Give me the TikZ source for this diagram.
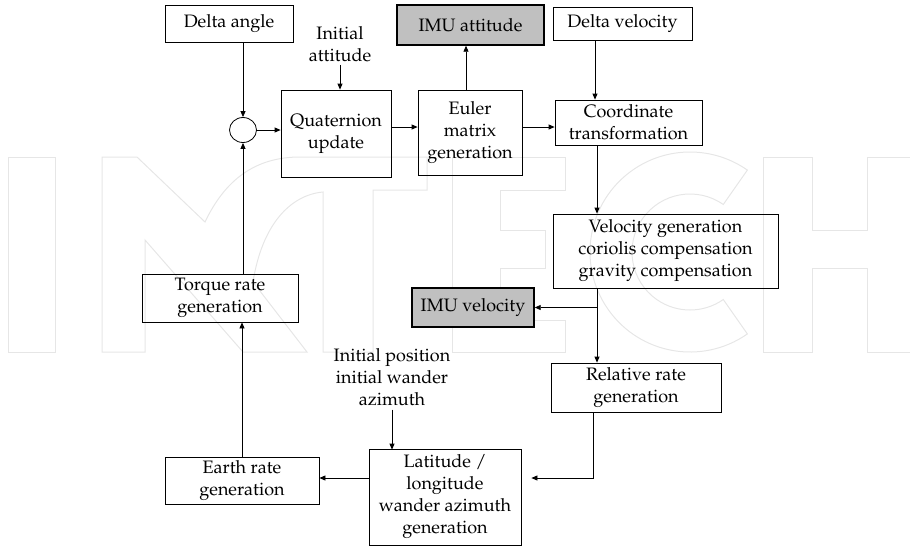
\documentclass[tikz,border=0pt]{standalone}
\usepackage[T1]{fontenc}
\renewcommand{\rmdefault}{ppl}
\usetikzlibrary{arrows.meta,calc,shapes.geometric}
\definecolor{wmark}{HTML}{E6E6E6}
\definecolor{outfill}{HTML}{C0C0C0}
\newcommand{\lblfont}{\fontsize{18}{22}\selectfont}
\begin{document}
\begin{tikzpicture}[x=1pt,y=-1pt,
  box/.style={draw, line width=0.8pt, inner sep=0pt, align=center, font=\lblfont},
  outbox/.style={box, fill=outfill, line width=1.4pt},
  note/.style={inner sep=0pt, align=center, font=\lblfont},
  arr/.style={line width=0.8pt, -{Triangle[length=6pt,width=5pt]}},
  wm/.style={draw=wmark, line width=1pt, line join=miter}]
\useasboundingbox (0,0) rectangle (910,547);

% faint logo lettering in the background
\begin{scope}
\clip (0,0) rectangle (910,547);
\draw[wm] (8,157) rectangle (55,352);
\draw[wm] (102,352) -- (102,157) -- (137,157) -- (205,222)
  .. controls (225,180) and (255,157) .. (300,157)
  -- (427,157) -- (427,190) -- (373,190) -- (373,352) -- (323,352) -- (323,192)
  .. controls (290,195) and (262,225) .. (253,282)
  -- (307,352) -- (243,352) -- (145,240) -- (145,352) -- cycle;
\draw[wm] (452,157) -- (565,157) -- (565,190) -- (500,190) -- (500,230)
  -- (545,230) -- (545,268) -- (500,268) -- (500,320) -- (565,320)
  -- (565,352) -- (452,352) -- cycle;
\draw[wm] (690,252) ++(55:100) arc[start angle=55, end angle=305, radius=100]
  -- ($(690,252)+(305:58)$) arc[start angle=305, end angle=55, radius=58] -- cycle;
\draw[wm] (763,157) -- (812,157) -- (812,230) -- (867,230) -- (867,157)
  -- (920,157) -- (920,352) -- (867,352) -- (867,268) -- (812,268)
  -- (812,352) -- (763,352) -- cycle;
\end{scope}

% blocks
\node[box, minimum width=128, minimum height=37] (dangle) at (229,23.5) {Delta angle};
\node[outbox, minimum width=147, minimum height=40] (imuatt) at (470.5,25) {IMU attitude};
\node[box, minimum width=139, minimum height=33] (dvel) at (622.5,23.5) {Delta velocity};
\node[note] (initatt) at (340,44) {Initial\\attitude};
\node[draw, line width=0.8pt, ellipse, minimum width=27, minimum height=25, inner sep=0pt] (sum) at (243,130) {};
\node[box, minimum width=110, minimum height=87] (quat) at (336,133.5) {Quaternion\\update};
\node[box, minimum width=104, minimum height=85] (euler) at (470,132.5) {Euler\\matrix\\generation};
\node[box, minimum width=147, minimum height=45] (coord) at (628.5,122.5) {Coordinate\\transformation};
\node[box, minimum width=225, minimum height=74] (velgen) at (665.5,251) {Velocity generation\\coriolis compensation\\gravity compensation};
\node[outbox, minimum width=122, minimum height=39] (imuvel) at (473,307.5) {IMU velocity};
\node[box, minimum width=156, minimum height=48] (torque) at (220,298) {Torque rate\\generation};
\node[box, minimum width=170, minimum height=49] (relrate) at (636,387.5) {Relative rate\\generation};
\node[note] (initpos) at (392,377) {Initial position\\initial wander\\azimuth};
\node[box, minimum width=154, minimum height=47] (earth) at (242,480.5) {Earth rate\\generation};
\node[box, minimum width=152, minimum height=96] (lat) at (445,497) {Latitude /\\longitude\\wander azimuth\\generation};

% connectors
\draw[arr] (sum.north |- dangle.south) -- (sum.north);
\draw[arr] ([yshift=-3pt]initatt.south) -- (initatt.south |- quat.north);
\draw[arr] (sum.east) -- (sum.east -| quat.west);
\draw[arr] ([yshift=6.5pt]quat.east) -- ([yshift=5.5pt]euler.west);
\draw[arr] ([xshift=-4pt]euler.north) -- ([xshift=-4pt]euler.north |- imuatt.south);
\draw[arr] ([yshift=5.5pt]euler.east) -- ([yshift=5.5pt]euler.east -| coord.west);
\draw[arr] ([xshift=-27.5pt]dvel.south) -- ([xshift=-27.5pt]dvel.south |- coord.north);
\draw[arr] ([xshift=-31.5pt]coord.south) -- ([xshift=-31.5pt]coord.south |- velgen.north);
\coordinate (vsplit) at ([xshift=-68.5pt]velgen.south |- imuvel.east);
\draw[arr] ([xshift=-68.5pt]velgen.south) -- ([xshift=-68.5pt]velgen.south |- relrate.north);
\draw[arr] (vsplit) -- (imuvel.east);
\coordinate (latin) at ([xshift=10pt,yshift=19pt]lat.east);
\draw[arr] ([xshift=-43pt]relrate.south) |- (latin);
\draw[arr] ([yshift=-4pt]initpos.south) -- ([yshift=-1pt]initpos.south |- lat.north);
\draw[arr] ([yshift=19pt]lat.west) -- ([yshift=19pt]lat.west -| earth.east);
\draw[arr] (earth.north) -- (earth.north |- torque.south);
\draw[arr] ([xshift=23pt]torque.north) -- (sum.south);
\end{tikzpicture}
\end{document}
